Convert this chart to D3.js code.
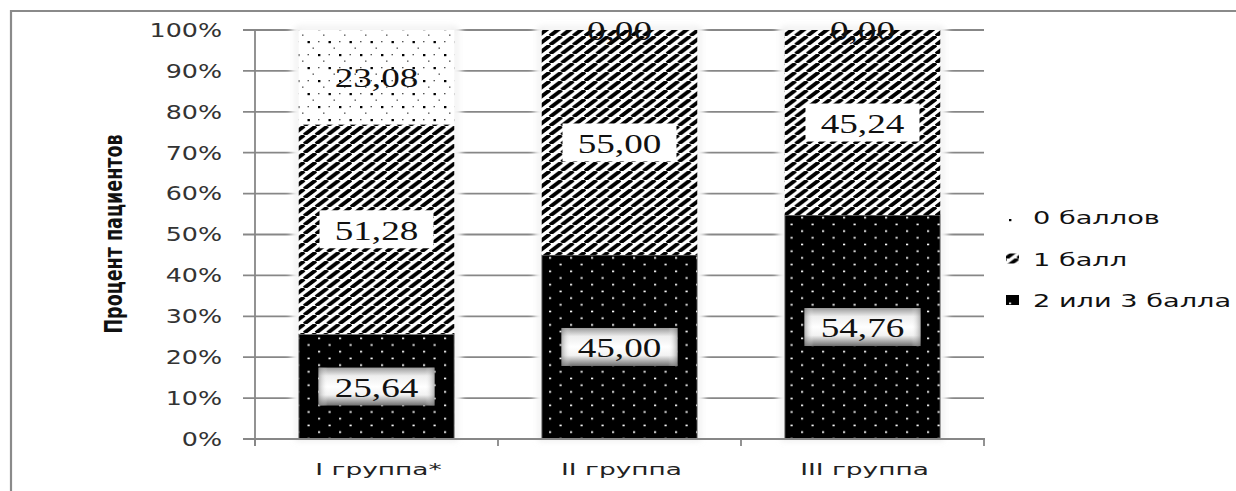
<!DOCTYPE html>
<html><head><meta charset="utf-8">
<script src="https://cdn.jsdelivr.net/npm/d3@7"></script>
<style>
html,body{margin:0;padding:0;background:#fff;}
svg{display:block;}
</style></head>
<body>
<svg id="chart" width="1236" height="491"></svg>
<script>
// ---- data ----
const categories = ["I группа*", "II группа", "III группа"];
const seriesNames = ["2 или 3 балла", "1 балл", "0 баллов"]; // bottom -> top
const s2or3 = [25.64, 45.00, 54.76];
const s1 = [51.28, 55.00, 45.24];
const s0 = [23.08, 0.00, 0.00];
const yTicks = [0, 10, 20, 30, 40, 50, 60, 70, 80, 90, 100];
const yTitle = "Процент пациентов";
const legendOrder = ["0 баллов", "1 балл", "2 или 3 балла"];

const seriesValues = [s2or3, s1, s0];
const table = categories.map((c, i) => {
  const o = {cat: c};
  seriesNames.forEach((s, k) => o[s] = seriesValues[k][i]);
  return o;
});

const svg = d3.select("#chart");
const defs = svg.append("defs");
const SX = 1.3; // horizontal stretch of the original picture

// patterns
const pDots = defs.append("pattern").attr("id", "pDots").attr("patternUnits", "userSpaceOnUse")
  .attr("width", 21).attr("height", 26);
pDots.append("rect").attr("width", 21).attr("height", 26).attr("fill", "#fff");
[[3, 2], [13.5, 15]].forEach(([x, y]) => pDots.append("rect").attr("x", x).attr("y", y).attr("width", 2.4).attr("height", 2.2).attr("fill", "#000"));
[[13.5, 2], [3, 15], [8, 8.5], [18.5, 21.5]].forEach(([x, y]) => pDots.append("rect").attr("x", x).attr("y", y).attr("width", 1.5).attr("height", 1.3).attr("fill", "#555"));

const hw = 11.7, hh = 9;
const pHatch = defs.append("pattern").attr("id", "pHatch").attr("patternUnits", "userSpaceOnUse")
  .attr("width", hw).attr("height", hh);
pHatch.append("rect").attr("width", hw).attr("height", hh).attr("fill", "#fff");
pHatch.append("path")
  .attr("d", `M${-hw},${hh}L0,0M0,${hh}L${hw},0M${hw},${hh}L${2 * hw},0`)
  .attr("stroke", "#000").attr("stroke-width", 3.8);

const pBlack = defs.append("pattern").attr("id", "pBlack").attr("patternUnits", "userSpaceOnUse")
  .attr("width", 21).attr("height", 13.4);
pBlack.append("rect").attr("width", 21).attr("height", 13.4).attr("fill", "#000");
[[3, 2.5], [13.5, 9.2]].forEach(([x, y]) => pBlack.append("rect").attr("x", x).attr("y", y).attr("width", 2.2).attr("height", 1.6).attr("fill", "#fff"));

const fills = {"2 или 3 балла": "url(#pBlack)", "1 балл": "url(#pHatch)", "0 баллов": "url(#pDots)"};

// gradient for label boxes on black segment
const grad = defs.append("linearGradient").attr("id", "gBox").attr("x1", 0).attr("y1", 0).attr("x2", 0).attr("y2", 1);
[[0, "#9a9a9a"], [0.22, "#eeeeee"], [0.5, "#ffffff"], [0.72, "#f2f2f2"], [1, "#6e6e6e"]]
  .forEach(([o, c]) => grad.append("stop").attr("offset", o).attr("stop-color", c));
const gradH = defs.append("linearGradient").attr("id", "gBoxH").attr("x1", 0).attr("y1", 0).attr("x2", 1).attr("y2", 0);
[[0, "rgba(120,120,120,0.55)"], [0.08, "rgba(255,255,255,0)"], [0.92, "rgba(255,255,255,0)"], [1, "rgba(120,120,120,0.55)"]]
  .forEach(([o, c]) => gradH.append("stop").attr("offset", o).attr("stop-color", c));

const blur = defs.append("filter").attr("id", "glow").attr("x", "-20%").attr("y", "-20%").attr("width", "140%").attr("height", "140%");
blur.append("feGaussianBlur").attr("stdDeviation", 3);

// outer frame
svg.append("path").attr("d", "M11,491V11H1236").attr("fill", "none").attr("stroke", "#8a8a8a").attr("stroke-width", 2.2);

// scales
const x = d3.scaleBand().domain(categories).range([255, 984]).paddingInner(0.36).paddingOuter(0.18);
const y = d3.scaleLinear().domain([0, 100]).range([439, 30]);

// gridlines
svg.append("g").selectAll("line").data(yTicks.slice(1)).join("line")
  .attr("x1", 243).attr("x2", 984)
  .attr("y1", d => y(d)).attr("y2", d => y(d))
  .attr("stroke", "#878787").attr("stroke-width", 1.8);

// stack
const stack = d3.stack().keys(seriesNames)(table);

// glow behind bars
svg.append("g").selectAll("rect").data(categories).join("rect")
  .attr("x", d => x(d) - 7).attr("y", y(100) - 7)
  .attr("width", x.bandwidth() + 14).attr("height", y(0) - y(100) + 7)
  .attr("fill", "#fff").attr("filter", "url(#glow)");
svg.append("g").selectAll("rect").data(categories).join("rect")
  .attr("x", d => x(d) - 1.5).attr("y", y(100) - 1.5)
  .attr("width", x.bandwidth() + 3).attr("height", y(0) - y(100) + 1.5)
  .attr("fill", "none").attr("stroke", "#d8d8d8").attr("stroke-width", 2).attr("filter", "url(#glow)");

// bars
const layers = svg.append("g").selectAll("g").data(stack).join("g")
  .attr("fill", d => fills[d.key]);
layers.selectAll("rect").data(d => d.map(v => ({v, key: d.key}))).join("rect")
  .attr("x", d => x(d.v.data.cat))
  .attr("y", d => y(d.v[1]))
  .attr("width", x.bandwidth())
  .attr("height", d => y(d.v[0]) - y(d.v[1]))
  .attr("stroke", d => d.key === "2 или 3 балла" ? "#9a9a9a" : "none")
  .attr("stroke-width", 1);

// axes
const axisG = svg.append("g").attr("stroke", "#878787").attr("stroke-width", 1.8);
axisG.append("line").attr("x1", 255).attr("x2", 255).attr("y1", y(100)).attr("y2", 446);
axisG.append("line").attr("x1", 243).attr("x2", 985).attr("y1", y(0)).attr("y2", y(0));
const edges = [x.range()[0]].concat(categories.map(c => x(c) + x.bandwidth() + x.step() * x.paddingInner() / 2));
edges[edges.length - 1] = x.range()[1];
axisG.selectAll("line.ct").data(edges).join("line").attr("class", "ct")
  .attr("x1", d => d).attr("x2", d => d).attr("y1", y(0)).attr("y2", 446);

// y tick labels
svg.append("g").selectAll("g").data(yTicks).join("g")
  .attr("transform", d => `translate(222,${y(d)}) scale(${SX},1)`)
  .append("text")
  .attr("text-anchor", "end").attr("dominant-baseline", "central")
  .attr("font-family", "DejaVu Sans, Verdana, sans-serif").attr("font-size", 19.5)
  .attr("fill", "#333")
  .text(d => d + "%");

// category labels
svg.append("g").selectAll("g").data(categories).join("g")
  .attr("transform", d => `translate(${x(d) + x.bandwidth() / 2 + 2},475) scale(1.6,1)`)
  .append("text")
  .attr("text-anchor", "middle")
  .attr("font-family", "DejaVu Sans, sans-serif").attr("font-size", 16.5)
  .attr("fill", "#222")
  .text(d => d);

// y title
svg.append("g")
  .attr("transform", `translate(113,234) rotate(-90) scale(1,${SX})`)
  .append("text")
  .attr("text-anchor", "middle").attr("dominant-baseline", "central")
  .attr("font-family", "Liberation Sans Narrow, DejaVu Sans Condensed, Arial Narrow, sans-serif")
  .attr("font-stretch", "condensed").attr("font-weight", "bold").attr("font-size", 19.5)
  .attr("fill", "#111")
  .text(yTitle);

// value labels
const fmt = v => d3.format(".2f")(v).replace(".", ",");
const labels = [];
stack.forEach(layer => layer.forEach(v => labels.push({key: layer.key, v})));
const lg = svg.append("g");
labels.forEach(d => {
  const cx = x(d.v.data.cat) + x.bandwidth() / 2;
  const cy = (y(d.v[0]) + y(d.v[1])) / 2;
  const val = d.v[1] - d.v[0];
  const g = lg.append("g").attr("transform", `translate(${cx},${cy})`);
  if (d.key === "2 или 3 балла") {
    g.append("rect").attr("x", -58).attr("y", -19).attr("width", 116).attr("height", 38).attr("fill", "url(#gBox)");
    g.append("rect").attr("x", -58).attr("y", -19).attr("width", 116).attr("height", 38).attr("fill", "url(#gBoxH)");
  } else if (d.key === "1 балл") {
    g.append("rect").attr("x", -57).attr("y", -19).attr("width", 114).attr("height", 38).attr("fill", "#fff");
  }
  g.append("g").attr("transform", `scale(${SX + 0.05},1)`).append("text")
    .attr("text-anchor", "middle").attr("dominant-baseline", "central").attr("y", 1)
    .attr("font-family", "Liberation Serif, Times New Roman, serif").attr("font-size", 27.5)
    .attr("fill", "#111")
    .text(fmt(val));
});

// legend
const legSw = {"0 баллов": "url(#pDots)", "1 балл": "url(#pHatch)", "2 или 3 балла": "url(#pBlack)"};
const leg = svg.append("g").selectAll("g").data(legendOrder).join("g")
  .attr("transform", (d, i) => `translate(1006,${217 + i * 41.5})`);
leg.append("rect").attr("x", 0).attr("y", -5).attr("width", 13).attr("height", 10)
  .attr("fill", d => legSw[d]);
leg.append("g").attr("transform", `translate(27,0) scale(1.6,1)`).append("text")
  .attr("dominant-baseline", "central").attr("y", 1)
  .attr("font-family", "DejaVu Sans, sans-serif").attr("font-size", 17)
  .attr("fill", "#111")
  .text(d => d);
</script>
</body></html>
